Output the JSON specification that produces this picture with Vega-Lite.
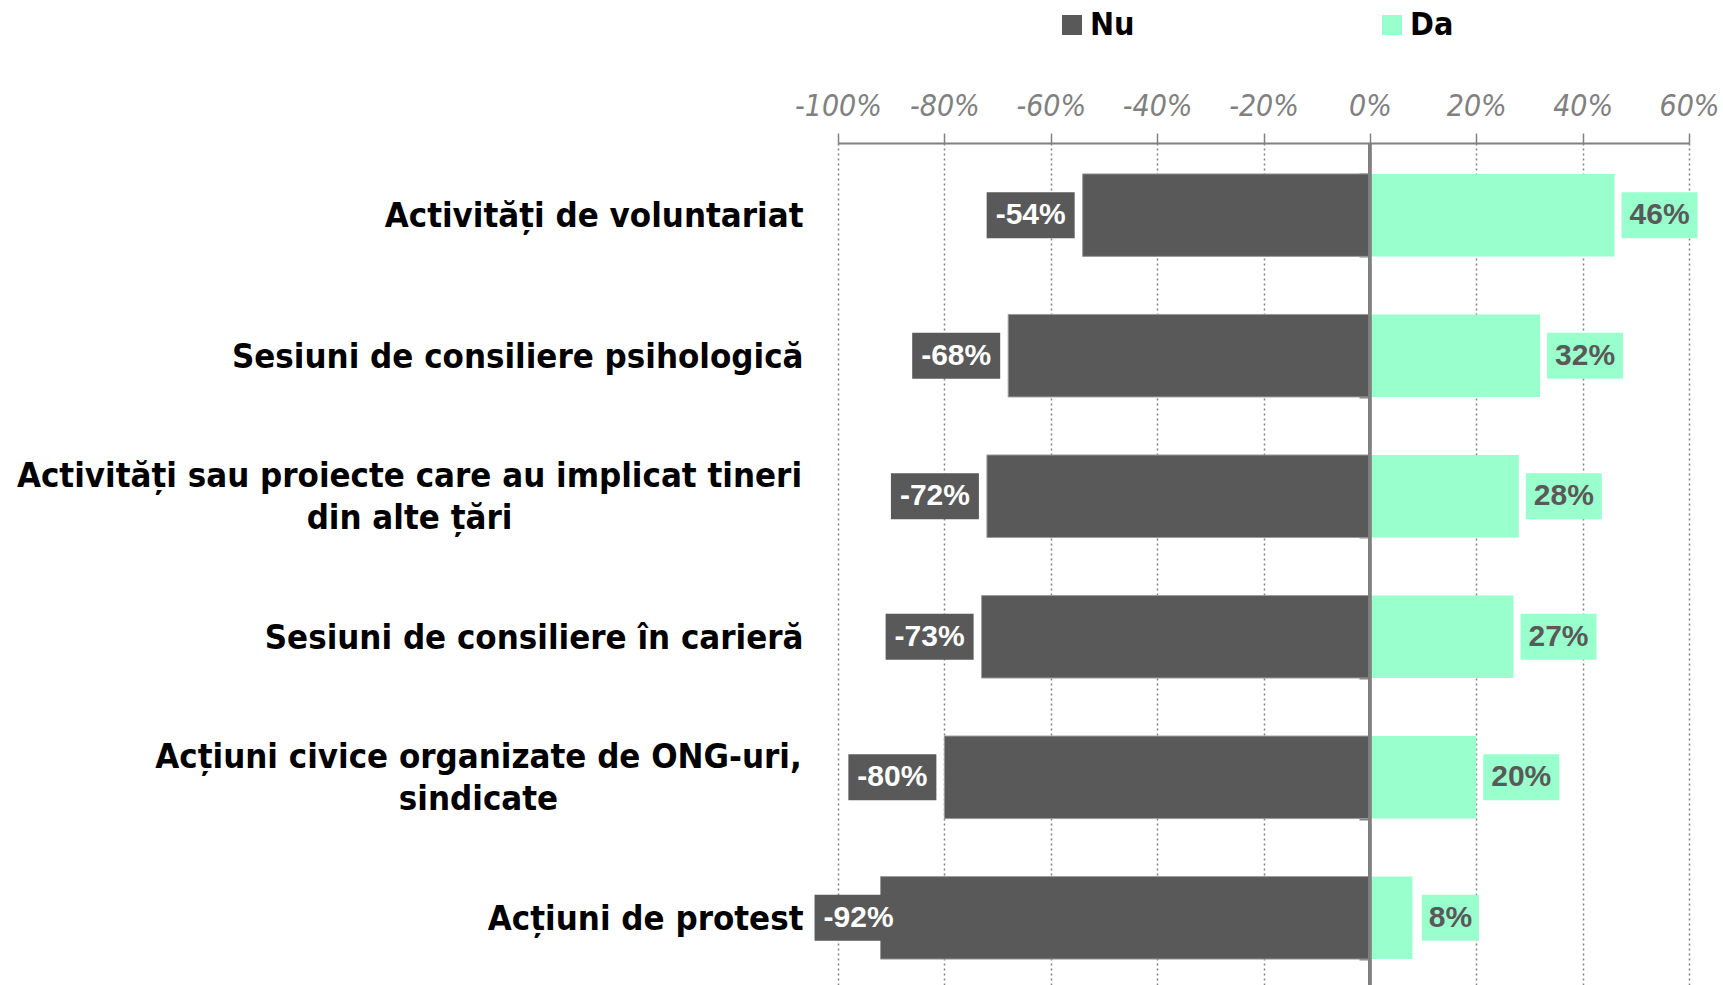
{
  "$schema": "https://vega.github.io/schema/vega-lite/v6.json",
  "width": 851,
  "height": 847,
  "autosize": "none",
  "padding": {"left": 838, "top": 143, "right": 34, "bottom": 0},
  "background": "white",
  "config": {"view": {"stroke": null}},
  "datasets": {
    "rows": [
      {"cat": "Activități de voluntariat", "series": "Nu", "v": -54, "lbl": "-54%"},
      {"cat": "Activități de voluntariat", "series": "Da", "v": 46, "lbl": "46%"},
      {"cat": "Sesiuni de consiliere psihologică", "series": "Nu", "v": -68, "lbl": "-68%"},
      {"cat": "Sesiuni de consiliere psihologică", "series": "Da", "v": 32, "lbl": "32%"},
      {"cat": "Activități sau proiecte care au implicat tineri|din alte țări", "series": "Nu", "v": -72, "lbl": "-72%"},
      {"cat": "Activități sau proiecte care au implicat tineri|din alte țări", "series": "Da", "v": 28, "lbl": "28%"},
      {"cat": "Sesiuni de consiliere în carieră", "series": "Nu", "v": -73, "lbl": "-73%"},
      {"cat": "Sesiuni de consiliere în carieră", "series": "Da", "v": 27, "lbl": "27%"},
      {"cat": "Acțiuni civice organizate de ONG-uri,|sindicate", "series": "Nu", "v": -80, "lbl": "-80%"},
      {"cat": "Acțiuni civice organizate de ONG-uri,|sindicate", "series": "Da", "v": 20, "lbl": "20%"},
      {"cat": "Acțiuni de protest", "series": "Nu", "v": -92, "lbl": "-92%"},
      {"cat": "Acțiuni de protest", "series": "Da", "v": 8, "lbl": "8%"}
    ]
  },
  "data": {"name": "rows"},
  "layer": [
    {
      "mark": {"type": "bar", "strokeWidth": 1},
      "encoding": {
        "y": {
          "field": "cat", "type": "nominal", "sort": null,
          "scale": {"paddingInner": 0.413, "paddingOuter": 0.22},
          "axis": {
            "orient": "left", "title": null, "domain": false, "ticks": false, "grid": false,
            "labelExpr": "split(datum.label, '|')",
            "labelAlign": {"condition": {"test": "indexof(datum.value, '|') >= 0", "value": "center"}, "value": "right"},
            "labelPadding": {"condition": [
              {"test": "indexof(datum.value, 'tineri') >= 0", "value": 429},
              {"test": "indexof(datum.value, 'ONG') >= 0", "value": 360}
            ], "value": 35},
            "labelOffset": {"condition": {"test": "indexof(datum.value, '|') >= 0", "value": -19}, "value": 2},
            "labelFont": "DejaVu Sans Condensed",
            "labelFontWeight": "bold",
            "labelFontSize": 34.5,
            "labelColor": "black",
            "labelLimit": 1000,
            "labelLineHeight": 42,
            "labelBaseline": "middle"
          }
        },
        "x": {
          "field": "v", "type": "quantitative", "stack": null,
          "scale": {"domain": [-100, 60], "nice": false},
          "axis": {
            "orient": "top", "title": null,
            "values": [-100, -80, -60, -40, -20, 0, 20, 40, 60],
            "labelExpr": "datum.value + '%'",
            "domainColor": "#808080", "domainWidth": 2,
            "tickColor": "#808080", "tickWidth": 1.5, "tickSize": 10,
            "labelPadding": 12,
            "labelFont": "DejaVu Sans Condensed",
            "labelFontStyle": "italic",
            "labelFontSize": 30,
            "labelColor": "#808080",
            "labelFlush": false,
            "grid": true, "gridColor": "#808080", "gridDash": [2, 3], "gridWidth": 1.5
          }
        },
        "color": {
          "field": "series", "type": "nominal",
          "scale": {"domain": ["Nu", "Da"], "range": ["#595959", "#99ffcc"]},
          "legend": {
            "orient": "none", "legendX": 218, "legendY": -134,
            "direction": "horizontal", "title": null,
            "symbolType": "square", "symbolSize": 400, "symbolStrokeWidth": 0, "symbolOpacity": 1,
            "labelFont": "DejaVu Sans Condensed", "labelFontWeight": "bold",
            "labelFontSize": 32, "labelColor": "black", "labelOffset": 2,
            "columnPadding": 241
          }
        },
        "stroke": {"condition": {"test": "datum.series === 'Nu'", "value": "#9a9a9a"}, "value": null}
      }
    },
    {
      "mark": {"type": "rule", "color": "#808080", "strokeWidth": 2.5},
      "encoding": {"x": {"datum": 0}}
    },
    {
      "transform": [{"filter": "datum.series === 'Nu' && datum.v >= -90"}],
      "encoding": {
        "y": {"field": "cat", "type": "nominal", "sort": null, "axis": null},
        "x": {"field": "v", "type": "quantitative"}
      },
      "layer": [
        {"mark": {"type": "tick", "orient": "vertical", "thickness": 88, "size": 46, "xOffset": -52, "color": "#595959", "opacity": 1}},
        {"mark": {"type": "text", "xOffset": -52, "font": "Liberation Sans", "fontWeight": "bold", "fontSize": 30, "color": "white", "align": "center", "baseline": "middle"},
         "encoding": {"text": {"field": "lbl"}}}
      ]
    },
    {
      "transform": [{"filter": "datum.series === 'Nu' && datum.v < -90"}],
      "encoding": {
        "y": {"field": "cat", "type": "nominal", "sort": null, "axis": null},
        "x": {"field": "v", "type": "quantitative"}
      },
      "layer": [
        {"mark": {"type": "tick", "orient": "vertical", "thickness": 88, "size": 46, "xOffset": -22, "color": "#595959", "opacity": 1}},
        {"mark": {"type": "text", "xOffset": -22, "font": "Liberation Sans", "fontWeight": "bold", "fontSize": 30, "color": "white", "align": "center", "baseline": "middle"},
         "encoding": {"text": {"field": "lbl"}}}
      ]
    },
    {
      "transform": [{"filter": "datum.series === 'Da' && datum.v >= 10"}],
      "encoding": {
        "y": {"field": "cat", "type": "nominal", "sort": null, "axis": null},
        "x": {"field": "v", "type": "quantitative"}
      },
      "layer": [
        {"mark": {"type": "tick", "orient": "vertical", "thickness": 76, "size": 46, "xOffset": 45, "color": "#99ffcc", "opacity": 1}},
        {"mark": {"type": "text", "xOffset": 45, "font": "Liberation Sans", "fontWeight": "bold", "fontSize": 30, "color": "#595959", "align": "center", "baseline": "middle"},
         "encoding": {"text": {"field": "lbl"}}}
      ]
    },
    {
      "transform": [{"filter": "datum.series === 'Da' && datum.v < 10"}],
      "encoding": {
        "y": {"field": "cat", "type": "nominal", "sort": null, "axis": null},
        "x": {"field": "v", "type": "quantitative"}
      },
      "layer": [
        {"mark": {"type": "tick", "orient": "vertical", "thickness": 57, "size": 46, "xOffset": 38, "color": "#99ffcc", "opacity": 1}},
        {"mark": {"type": "text", "xOffset": 38, "font": "Liberation Sans", "fontWeight": "bold", "fontSize": 30, "color": "#595959", "align": "center", "baseline": "middle"},
         "encoding": {"text": {"field": "lbl"}}}
      ]
    },
    {
      "mark": {"type": "point", "opacity": 0},
      "encoding": {
        "y": {"field": "cat", "type": "nominal", "sort": null,
          "axis": {"orient": "left", "offset": -532, "labels": false, "domain": false, "grid": false, "title": null,
            "ticks": true, "tickBand": "extent", "tickSize": 11, "tickColor": "#808080", "tickWidth": 2}}
      }
    },
    {
      "mark": {"type": "point", "opacity": 0},
      "encoding": {
        "y": {"field": "cat", "type": "nominal", "sort": null,
          "axis": {"orient": "right", "offset": -319, "labels": false, "domain": false, "grid": false, "title": null,
            "ticks": true, "tickSize": 8, "tickColor": "#808080", "tickWidth": 2}}
      }
    }
  ],
  "resolve": {"axis": {"y": "independent"}}
}
